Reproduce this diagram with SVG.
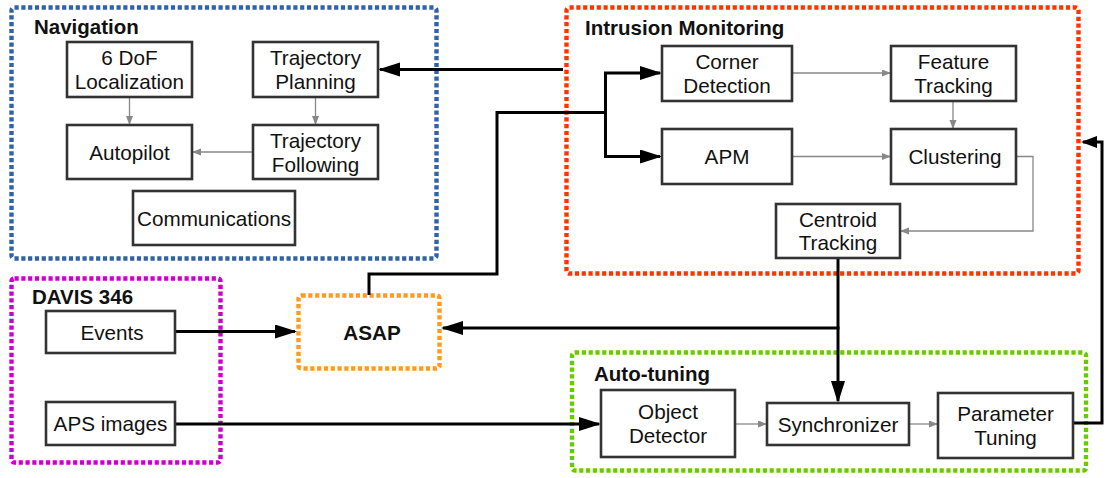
<svg xmlns="http://www.w3.org/2000/svg" width="1108" height="478" viewBox="0 0 1108 478">
<style>
.grp{fill:none;stroke-width:4.4;stroke-dasharray:4.2 2.6;}
.node{fill:#fff;stroke:#333;stroke-width:2.6;}
.t{font-family:"Liberation Sans",Arial,sans-serif;font-size:20.7px;fill:#111;text-anchor:middle;}
.title{font-family:"Liberation Sans",Arial,sans-serif;font-size:20.5px;font-weight:bold;fill:#111;}
.thick{fill:none;stroke:#000;stroke-width:3;stroke-linejoin:miter;}
.thin{fill:none;stroke:#888;stroke-width:1.3;}
</style>
<defs>
<marker id="ab" markerUnits="userSpaceOnUse" markerWidth="24" markerHeight="16" refX="20" refY="7" orient="auto">
<path d="M0,0 L22,7 L0,14 z" fill="#000"/>
</marker>
<marker id="abs" markerUnits="userSpaceOnUse" markerWidth="18" markerHeight="14" refX="14" refY="6" orient="auto">
<path d="M0,0 L16,6 L0,12 z" fill="#000"/>
</marker>
<marker id="ag" markerUnits="userSpaceOnUse" markerWidth="10" markerHeight="8" refX="9" refY="3.5" orient="auto">
<path d="M0,0 L9,3.5 L0,7 z" fill="#888"/>
</marker>
</defs>

<rect width="1108" height="478" fill="#fff"/>

<g id="grp-navigation">
<rect class="grp" x="11.5" y="7.5" width="425" height="251" rx="3" stroke="#2f62a8"/>
<text class="title" x="34" y="34">Navigation</text>
</g>
<g id="grp-intrusion">
<rect class="grp" x="566.5" y="7.5" width="512" height="266" rx="3" stroke="#ff3300"/>
<text class="title" x="585" y="35">Intrusion Monitoring</text>
</g>
<g id="grp-davis">
<rect class="grp" x="11.5" y="278.5" width="209" height="184" rx="3" stroke="#cc00cc"/>
<text class="title" x="32" y="304">DAVIS 346</text>
</g>
<g id="grp-autotuning">
<rect class="grp" x="572" y="352.5" width="514" height="118" rx="3" stroke="#66cc00"/>
<text class="title" x="594" y="381">Auto-tuning</text>
</g>
<g id="asap">
<rect class="grp" x="298.5" y="295.5" width="141" height="73" rx="3" stroke="#ff9a1a"/>
<text class="t" x="372" y="340" style="font-weight:bold">ASAP</text>
</g>

<g id="connectors">
<path class="thick" d="M563,69.5 H380" marker-end="url(#ab)"/>
<path class="thick" d="M369,295 V274 H497 V112.5 H605.5"/>
<path class="thick" d="M605.5,73 V156.5"/>
<path class="thick" d="M604,73 H660" marker-end="url(#ab)"/>
<path class="thick" d="M604,156.5 H660" marker-end="url(#ab)"/>
<path class="thick" d="M838,258 V401" marker-end="url(#ab)"/>
<path class="thick" d="M839.5,328 H443" marker-end="url(#ab)"/>
<path class="thick" d="M175,331.5 H295" marker-end="url(#ab)"/>
<path class="thick" d="M175,424 H599" marker-end="url(#ab)"/>
<path class="thick" d="M1073,423 H1102 V142 H1083" marker-end="url(#abs)"/>
<path class="thin" d="M129.5,97 V125" marker-end="url(#ag)"/>
<path class="thin" d="M315.5,97 V125" marker-end="url(#ag)"/>
<path class="thin" d="M253,152 H192" marker-end="url(#ag)"/>
<path class="thin" d="M792,73 H891" marker-end="url(#ag)"/>
<path class="thin" d="M953,101 V129" marker-end="url(#ag)"/>
<path class="thin" d="M792,156.5 H891" marker-end="url(#ag)"/>
<path class="thin" d="M1016,156.5 H1033 V231 H900" marker-end="url(#ag)"/>
<path class="thin" d="M735,424 H767" marker-end="url(#ag)"/>
<path class="thin" d="M909,424 H938" marker-end="url(#ag)"/>
</g>

<g id="n-6dof"><rect class="node" x="67" y="42" width="125" height="55"/><text class="t" x="129.5" y="65">6 DoF</text><text class="t" x="129.5" y="88.5">Localization</text></g>
<g id="n-trajplan"><rect class="node" x="253" y="42" width="125" height="55"/><text class="t" x="315.5" y="65">Trajectory</text><text class="t" x="315.5" y="88.5">Planning</text></g>
<g id="n-autopilot"><rect class="node" x="67" y="125" width="125" height="54"/><text class="t" x="129.5" y="159.5">Autopilot</text></g>
<g id="n-trajfollow"><rect class="node" x="253" y="125" width="125" height="54"/><text class="t" x="315.5" y="148">Trajectory</text><text class="t" x="315.5" y="171.5">Following</text></g>
<g id="n-comms"><rect class="node" x="133" y="191" width="162" height="54"/><text class="t" x="214" y="225.5">Communications</text></g>

<g id="n-corner"><rect class="node" x="662" y="46" width="130" height="55"/><text class="t" x="727" y="69">Corner</text><text class="t" x="727" y="92.5">Detection</text></g>
<g id="n-feature"><rect class="node" x="891" y="46" width="125" height="55"/><text class="t" x="953.5" y="69">Feature</text><text class="t" x="953.5" y="92.5">Tracking</text></g>
<g id="n-apm"><rect class="node" x="662" y="129" width="130" height="55"/><text class="t" x="727" y="164">APM</text></g>
<g id="n-clustering"><rect class="node" x="891" y="129" width="125" height="55"/><text class="t" x="955" y="164">Clustering</text></g>
<g id="n-centroid"><rect class="node" x="776" y="204" width="124" height="54"/><text class="t" x="838" y="226.5">Centroid</text><text class="t" x="838" y="250">Tracking</text></g>

<g id="n-events"><rect class="node" x="46" y="311" width="129" height="42"/><text class="t" x="112" y="339.5">Events</text></g>
<g id="n-aps"><rect class="node" x="46" y="402" width="129" height="43"/><text class="t" x="110.5" y="431">APS images</text></g>

<g id="n-objdet"><rect class="node" x="601" y="390" width="134" height="67"/><text class="t" x="668" y="419">Object</text><text class="t" x="668" y="442.5">Detector</text></g>
<g id="n-sync"><rect class="node" x="767" y="403" width="142" height="42"/><text class="t" x="838" y="431.5">Synchronizer</text></g>
<g id="n-param"><rect class="node" x="938" y="393" width="135" height="65"/><text class="t" x="1005.5" y="421">Parameter</text><text class="t" x="1005.5" y="444.5">Tuning</text></g>
</svg>
